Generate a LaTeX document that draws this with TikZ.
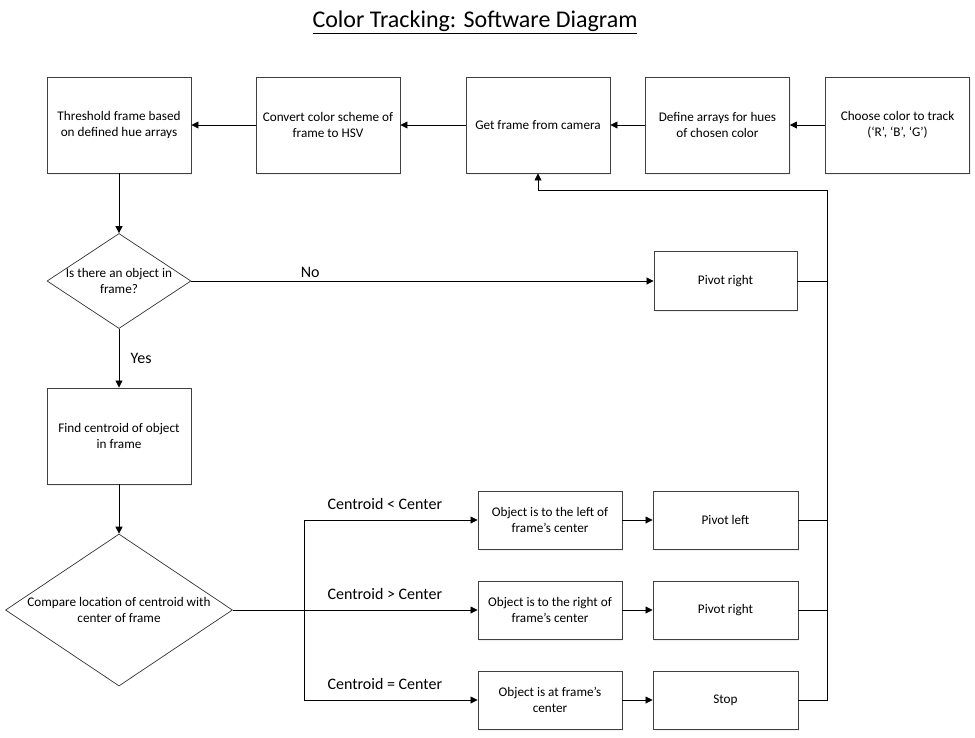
\documentclass[tikz,border=0pt]{standalone}
\usepackage{fontspec}
\setmainfont{Carlito}
\usetikzlibrary{shapes.geometric,arrows.meta,shadows}

\begin{document}
\begin{tikzpicture}[x=1pt,y=-1pt,
    box/.style={rectangle,draw=black!75,line width=.9pt,fill=white,align=center,
        font=\fontsize{13.2}{16.5}\selectfont,
        drop shadow={opacity=.12,shadow xshift=1pt,shadow yshift=-1.5pt}},
    bigbox/.style={box,minimum width=144pt,minimum height=96pt},
    smallbox/.style={box,minimum width=144pt,minimum height=58pt},
    dec/.style={diamond,draw=black!80,line width=.7pt,inner sep=0pt},
    dectext/.style={align=center,font=\fontsize{13.2}{16.5}\selectfont},
    lbl/.style={font=\fontsize{16}{19}\selectfont},
    arr/.style={-{Triangle[length=7pt,width=7pt]},line width=.8pt},
    ln/.style={line width=.8pt}]
    \useasboundingbox (0,0) rectangle (975,737);
    \node[font=\fontsize{24}{28}\selectfont] (title) at (475,22) {\underline{Color Tracking: Software Diagram}};
    %top row, read from right to left
    \node[bigbox] (thresh) at (119,125) {Threshold frame based\\on defined hue arrays};
    \node[bigbox] (convert) at (328,125) {Convert color scheme of\\frame to HSV};
    \node[bigbox] (getframe) at (538,125) {Get frame from camera};
    \node[bigbox] (hues) at (717.5,125) {Define arrays for hues\\of chosen color};
    \node[bigbox] (choose) at (897.5,125) {Choose color to track\\(‘R’, ‘B’, ‘G’)};
    \draw[arr] (choose) -- (hues);
    \draw[arr] (hues) -- (getframe);
    \draw[arr] (getframe) -- (convert);
    \draw[arr] (convert) -- (thresh);
    %is there an object?
    \node[dec,minimum width=144pt,minimum height=95pt] (objq) at (119,281) {};
    \node[dectext] (objqtext) at (objq.center) {Is there an object in\\frame?};
    \node[box,minimum width=143pt,minimum height=59pt] (pivotA) at (725.5,281) {Pivot right};
    \node[bigbox,minimum height=96pt] (centroid) at (119,436) {Find centroid of object\\in frame};
    \draw[arr] (thresh.south) -- (objq.north);
    \draw[arr] (objq.east) -- node[lbl,above,pos=.257] {No} (pivotA.west);
    \draw[arr] (objq.south) -- node[lbl,right,pos=.5,xshift=8pt] {Yes} (centroid.north);
    %compare with center
    \node[dec,minimum width=227pt,minimum height=152pt] (cmp) at (119,610) {};
    \node[dectext] (cmptext) at (cmp.center) {Compare location of centroid with\\center of frame};
    \draw[arr] (centroid.south) -- (cmp.north);
    \node[smallbox] (leftobj) at (550,520) {Object is to the left of\\frame’s center};
    \node[smallbox] (rightobj) at (550,610) {Object is to the right of\\frame’s center};
    \node[smallbox] (atobj) at (550,700) {Object is at frame’s\\center};
    \node[smallbox,minimum width=145pt] (pivotL) at (725.5,520) {Pivot left};
    \node[smallbox,minimum width=145pt] (pivotR) at (725.5,610) {Pivot right};
    \node[smallbox,minimum width=145pt] (stop) at (725.5,700) {Stop};
    \coordinate (split) at (304,610);
    \coordinate (back) at (827,190);
    \draw[ln] (cmp.east) -- (split);
    \draw[arr] (split) |- (leftobj.west);
    \draw[arr] (split) -- (rightobj.west);
    \draw[arr] (split) |- (atobj.west);
    \node[lbl,anchor=west] (lessl) at (324,504) {Centroid < Center};
    \node[lbl,anchor=west] (morel) at (324,594) {Centroid > Center};
    \node[lbl,anchor=west] (eql) at (324,684) {Centroid = Center};
    \draw[arr] (leftobj) -- (pivotL);
    \draw[arr] (rightobj) -- (pivotR);
    \draw[arr] (atobj) -- (stop);
    %back to the camera
    \draw[arr] (stop.east) -| (back) -| (getframe.south);
    \draw[ln] (pivotL.east) -- (pivotL.east -| back);
    \draw[ln] (pivotR.east) -- (pivotR.east -| back);
    \draw[ln] (pivotA.east) -- (pivotA.east -| back);
\end{tikzpicture}
\end{document}
